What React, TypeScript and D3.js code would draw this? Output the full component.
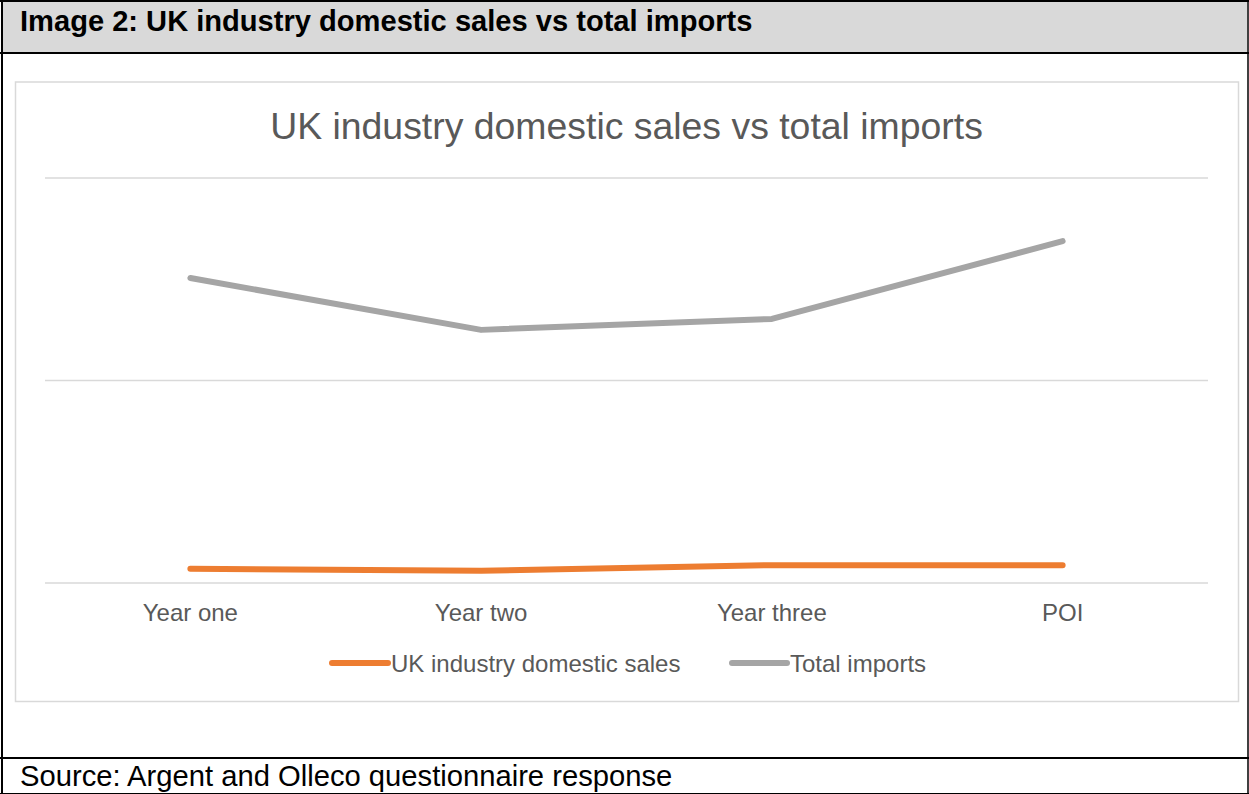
import React from "react";
import * as d3 from "d3";

const categories = ["Year one", "Year two", "Year three", "POI"];
const domesticSales = [3.5, 3.0, 4.4, 4.4];
const totalImports = [75.3, 62.5, 65.2, 84.4];
const yTicks = [0, 50, 100];
const seriesNames = ["UK industry domestic sales", "Total imports"];
const seriesColors = ["#ED7D31", "#A5A5A5"];

const W = 1249;
const H = 794;
const FONT = "'Liberation Sans', Arial, sans-serif";

export default function App() {
  const plotLeft = 45;
  const plotRight = 1208;
  const plotTop = 178;
  const plotBottom = 583;

  const x = d3.scalePoint<string>().domain(categories).range([plotLeft, plotRight]).padding(0.5);
  const y = d3.scaleLinear().domain([0, 100]).range([plotBottom, plotTop]);

  const line = d3
    .line<number>()
    .x((_, i) => x(categories[i]) as number)
    .y((d) => y(d));

  const series = [domesticSales, totalImports];

  const legendItems = [
    { x1: 332, x2: 388, tx: 391 },
    { x1: 732, x2: 787, tx: 790 },
  ];

  return (
    <svg
      width={W}
      height={H}
      style={{ position: "absolute", left: 0, top: 0, background: "#fff" }}
      fontFamily={FONT}
    >
      {/* header */}
      <rect x={2} y={2} width={W - 4} height={50} fill="#D9D9D9" />
      <text x={20} y={31} fontSize={29.1} fontWeight="bold" fill="#000">
        Image 2: UK industry domestic sales vs total imports
      </text>
      {/* outer table borders */}
      <line x1={0} x2={W} y1={1} y2={1} stroke="#000" strokeWidth={2} />
      <line x1={0} x2={W} y1={53} y2={53} stroke="#000" strokeWidth={2} />
      <line x1={0} x2={W} y1={758} y2={758} stroke="#000" strokeWidth={2} />
      <line x1={0} x2={W} y1={793.5} y2={793.5} stroke="#000" strokeWidth={1} />
      <line x1={2} x2={2} y1={0} y2={H} stroke="#000" strokeWidth={2} />
      <line x1={1248} x2={1248} y1={0} y2={H} stroke="#000" strokeWidth={1.5} />

      {/* chart frame */}
      <rect x={15.5} y={82} width={1223} height={619.5} fill="#fff" stroke="#D9D9D9" strokeWidth={1.5} />

      <text x={626.5} y={139} fontSize={37.4} fill="#595959" textAnchor="middle">
        UK industry domestic sales vs total imports
      </text>

      {/* gridlines */}
      {yTicks.map((t) => (
        <line key={t} x1={plotLeft} x2={plotRight} y1={y(t)} y2={y(t)} stroke="#D9D9D9" strokeWidth={1.5} />
      ))}

      {/* x labels */}
      {categories.map((c) => (
        <text key={c} x={x(c)} y={621} fontSize={24} fill="#595959" textAnchor="middle">
          {c}
        </text>
      ))}

      {/* lines */}
      {series.map((s, i) => (
        <path
          key={i}
          d={line(s) || ""}
          fill="none"
          stroke={seriesColors[i]}
          strokeWidth={6}
          strokeLinecap="round"
          strokeLinejoin="round"
        />
      ))}

      {/* legend */}
      {legendItems.map((l, i) => (
        <g key={i}>
          <line x1={l.x1} x2={l.x2} y1={663} y2={663} stroke={seriesColors[i]} strokeWidth={6} strokeLinecap="round" />
          <text x={l.tx} y={672} fontSize={24} fill="#595959">
            {seriesNames[i]}
          </text>
        </g>
      ))}

      {/* source */}
      <text x={20} y={786} fontSize={29.2} fill="#000">
        Source: Argent and Olleco questionnaire response
      </text>
    </svg>
  );
}
